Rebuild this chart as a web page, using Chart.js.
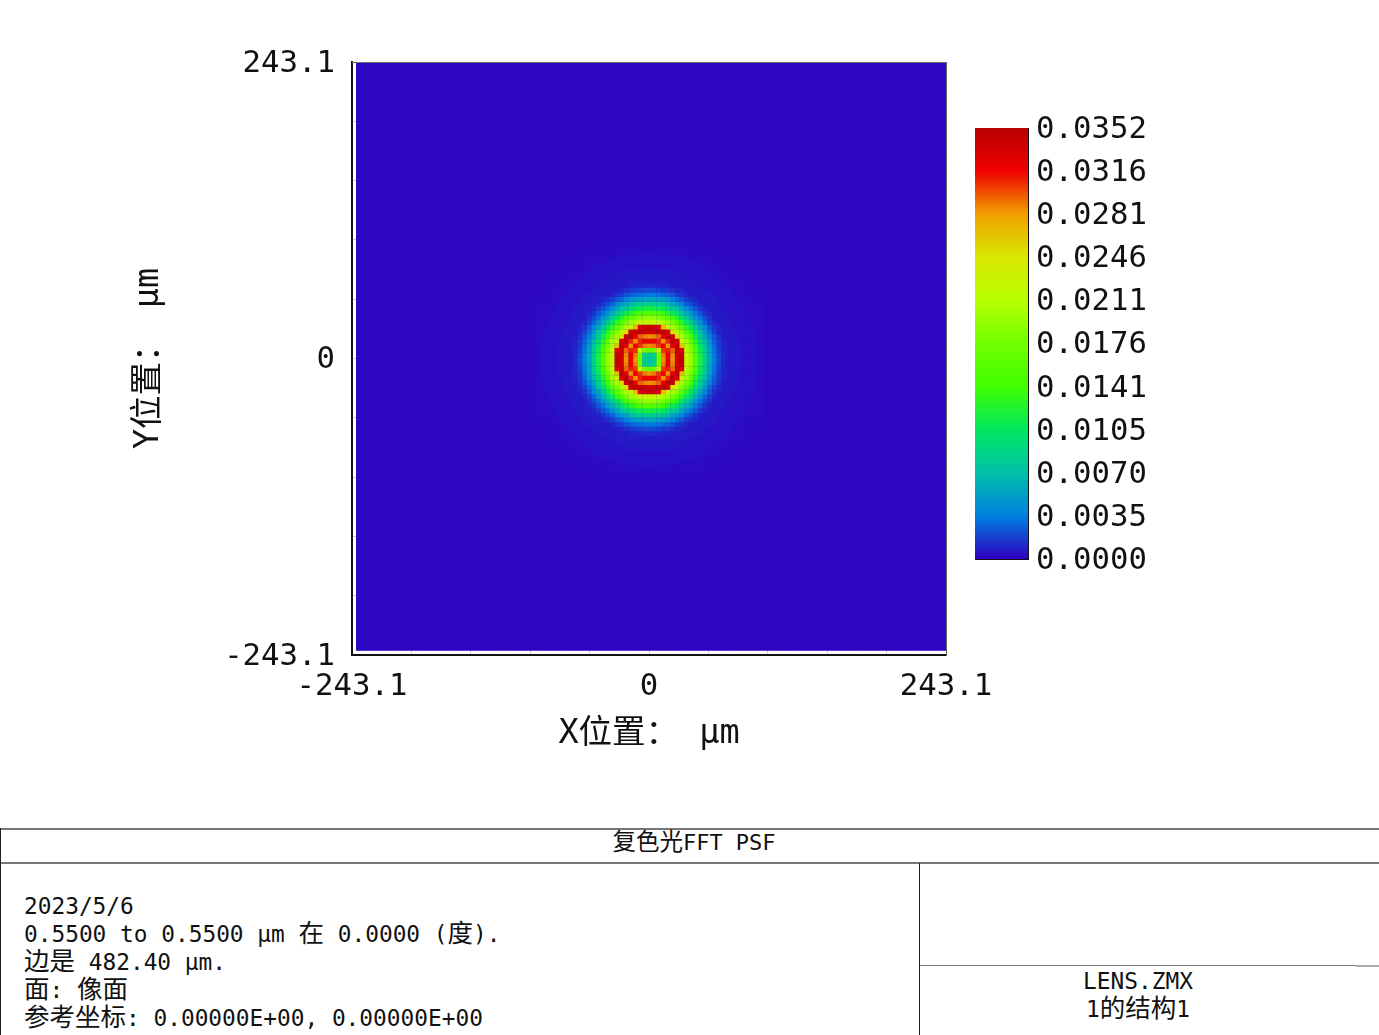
<!DOCTYPE html>
<html>
<head>
<meta charset="utf-8">
<title>复色光FFT PSF</title>
<script src="https://cdn.jsdelivr.net/npm/chart.js@4"></script>
<style>
  html, body { margin: 0; padding: 0; background: #fff; }
  body { width: 1379px; height: 1035px; position: relative; overflow: hidden; }
  canvas { position: absolute; }
  .txt { position: absolute; white-space: pre; color: #111; font: 22.8px/28px "DejaVu Sans Mono", "Noto Sans CJK SC", monospace; }
  .txt span { font-size: 25.5px; line-height: 20px; }
  .line { position: absolute; background: #777; }
</style>
</head>
<body>
<canvas id="psfChart" width="1000" height="800" style="left:0;top:0"></canvas>
<canvas id="barChart" width="220" height="480" style="left:960px;top:100px"></canvas>

<div class="line" style="left:0;top:828px;width:1379px;height:2px"></div>
<div class="line" style="left:0;top:862px;width:1379px;height:2px"></div>
<div class="line" style="left:0;top:828px;width:1px;height:207px;background:#222"></div>
<div class="line" style="left:919px;top:863px;width:1px;height:172px;background:#222"></div>
<div class="line" style="left:920px;top:965px;width:459px;height:1px"></div>
<div class="line" style="left:1356px;top:965px;width:23px;height:2px;background:#aaa"></div>

<div class="txt" style="left:0;top:829px;width:1388px;text-align:center;font-size:22px"><span style="font-size:23.5px">复色光</span>FFT PSF</div>
<div class="txt" style="left:24px;top:892px">2023/5/6
0.5500 to 0.5500 µm <span>在</span> 0.0000 (<span>度</span>).
<span>边是</span> 482.40 µm.
<span>面</span>: <span>像面</span>
<span>参考坐标</span>: 0.00000E+00, 0.00000E+00</div>
<div class="txt" style="left:920px;top:967px;width:436px;text-align:center">LENS.ZMX
1<span>的结构</span>1</div>

<script>
// Sumbu
const axisMax = 243.1;
const axisTicks = [-243.1, -194.48, -145.86, -97.24, -48.62, 0, 48.62, 97.24, 145.86, 194.48, 243.1];
const axisLabels = ['-243.1', '0', '243.1'];

// Colour bar
const barValues = [0, 0.00352, 0.00704, 0.01056, 0.01408, 0.0176, 0.02112, 0.02464, 0.02816, 0.03168, 0.0352];
const barLabels = ['0.0000', '0.0035', '0.0070', '0.0105', '0.0141', '0.0176', '0.0211', '0.0246', '0.0281', '0.0316', '0.0352'];
const barColors = ['#3000c0', '#0080e0', '#00c0a8', '#00e860', '#40ff00', '#70ff00', '#b8ff00', '#d8e800', '#f0a000', '#f00000', '#b80000'];

// PSF, one quarter of the spot, unit 1e-4, row = |y| cells, col = |x| cells
const psfBackground = 2;
const psfStep = 3.798;
const psfCenterX = 0.4;
const psfCenterY = -0.8;
const psfRows = [
  [75,78,165,285,320,285,335,345,225,195,155,118,85,56,34,20,11,7,7,7,5,4,5,4,3],
  [78,85,175,290,320,288,338,340,222,192,153,116,84,55,33,20,11,7,7,7,5,4,5,4,3],
  [165,175,225,305,310,295,345,325,215,186,147,112,81,53,32,18,10,7,7,7,5,4,5,4,3],
  [285,290,305,318,285,322,345,265,205,176,137,104,76,50,29,16,10,7,7,6,5,4,5,4,3],
  [320,320,310,285,310,345,330,222,197,161,126,94,70,45,26,15,9,7,7,6,5,4,5,4,3],
  [285,288,295,322,345,340,250,205,178,143,112,83,56,38,23,13,7,7,7,6,5,4,5,3,3],
  [335,338,345,345,330,250,205,182,155,124,95,72,48,29,17,10,7,7,7,5,4,5,5,3,3],
  [345,340,325,265,222,205,182,159,131,104,81,55,41,24,14,9,7,7,6,5,4,5,4,3,3],
  [225,222,215,205,197,178,155,131,107,84,60,45,27,17,10,7,7,7,5,5,4,5,3,3,3],
  [195,192,186,176,161,143,124,104,84,60,48,31,20,13,7,7,7,6,5,4,5,4,3,3,3],
  [155,153,147,137,126,112,95,81,60,48,32,23,14,10,7,7,7,5,5,4,5,4,3,3,3],
  [118,116,112,104,94,83,72,55,45,31,23,15,10,7,7,7,6,5,4,5,5,3,3,3,3],
  [85,84,81,76,70,56,48,41,27,20,14,10,7,7,7,6,5,5,4,5,4,3,3,3,3],
  [56,55,53,50,45,38,29,24,17,13,10,7,7,7,7,5,5,4,5,4,3,3,3,3,2],
  [34,33,32,29,26,23,17,14,10,7,7,7,7,7,5,5,4,5,5,3,3,3,3,2,2],
  [20,20,18,16,15,13,10,9,7,7,7,7,6,5,5,4,5,5,3,3,3,3,2,2,2],
  [11,11,10,10,9,7,7,7,7,7,7,6,5,5,4,5,5,4,3,3,3,3,2,2,2],
  [7,7,7,7,7,7,7,7,7,6,5,5,5,4,5,5,4,3,3,3,3,2,2,2,2],
  [7,7,7,7,7,7,7,6,5,5,5,4,4,5,5,3,3,3,3,3,2,2,2,2,2],
  [7,7,7,6,6,6,5,5,5,4,4,5,5,4,3,3,3,3,3,2,2,2,2,2,2],
  [5,5,5,5,5,5,4,4,4,5,5,5,4,3,3,3,3,3,2,2,2,2,2,2,2],
  [4,4,4,4,4,4,5,5,5,4,4,3,3,3,3,3,3,2,2,2,2,2,2,2,2],
  [5,5,5,5,5,5,5,4,3,3,3,3,3,3,3,2,2,2,2,2,2,2,2,2,2],
  [4,4,4,4,4,3,3,3,3,3,3,3,3,3,2,2,2,2,2,2,2,2,2,2,2],
  [3,3,3,3,3,3,3,3,3,3,3,3,2,2,2,2,2,2,2,2,2,2,2,2,2]
];

const monoFamily = '"DejaVu Sans Mono", "Noto Sans CJK SC", monospace';
const fontTitle = { family: monoFamily, size: 33.5 };

function hexToRgb(h) {
  return [parseInt(h.slice(1, 3), 16), parseInt(h.slice(3, 5), 16), parseInt(h.slice(5, 7), 16)];
}

function colorFor(v) {
  let i = 0;
  while (i < barValues.length - 2 && v > barValues[i + 1]) i++;
  const t = Math.min(1, (v - barValues[i]) / (barValues[i + 1] - barValues[i]));
  const a = hexToRgb(barColors[i]);
  const b = hexToRgb(barColors[i + 1]);
  return `rgb(${a.map((c, k) => Math.round(c + (b[k] - c) * t)).join(',')})`;
}

// Build cells for the scatter dataset
const cells = [];
const cellColors = [];
for (let j = -64; j <= 64; j++) {
  for (let i = -64; i <= 64; i++) {
    const row = psfRows[Math.abs(j)];
    const raw = row && row[Math.abs(i)] !== undefined ? row[Math.abs(i)] : psfBackground;
    const v = raw * 1e-4;
    cells.push({ x: psfCenterX + i * psfStep, y: psfCenterY + j * psfStep, v: v });
    cellColors.push(colorFor(v));
  }
}

// labels may overhang, the plot area stays where the padding puts it
function noOverhang(s) {
  s.paddingLeft = 0;
  s.paddingRight = 0;
  s.paddingTop = 0;
  s.paddingBottom = 0;
}

function quietAxis(position, axisId) {
  return {
    type: 'linear',
    position: position,
    axis: axisId,
    min: -axisMax,
    max: axisMax,
    ticks: { display: false },
    grid: { drawOnChartArea: false, drawTicks: false },
    border: { color: '#666', width: 1 },
    afterFit: s => { noOverhang(s); if (axisId === 'x') s.height = 0; else s.width = 0; }
  };
}

function mainAxis(titleText, axisId) {
  return {
    type: 'linear',
    min: -axisMax,
    max: axisMax,
    afterBuildTicks: s => { s.ticks = axisTicks.map(v => ({ value: v })); },
    ticks: {
      autoSkip: false,
      maxRotation: 0,
      minRotation: 0,
      color: '#111',
      font: axisId === 'x' ? { family: monoFamily, size: 30.7 } : { family: monoFamily, size: 30.7, lineHeight: '4px' },
      padding: axisId === 'x' ? 14 : 17,
      callback: v => {
        let t = '';
        if (Math.abs(v) < 1e-6) t = axisLabels[1];
        if (v === -axisMax) t = axisLabels[0];
        if (v === axisMax) t = axisLabels[2];
        // two lines push the y label down a little, to sit on its tick
        return axisId === 'y' && t ? ['', t] : t;
      }
    },
    grid: { color: '#cfcfcf', lineWidth: 1, drawTicks: false },
    border: { color: '#111', width: 2 },
    title: { display: true, text: titleText, color: '#111', font: fontTitle, padding: { top: 8, bottom: 0 } },
    afterFit: s => { noOverhang(s); if (axisId === 'x') s.height = 99; else s.width = 352 - 121; }
  };
}

// same colour under the cells so their soft edges leave no seams
const cellBackdrop = {
  id: 'cellBackdrop',
  beforeDatasetsDraw(chart) {
    const a = chart.chartArea;
    chart.ctx.fillStyle = colorFor(psfBackground * 1e-4);
    chart.ctx.fillRect(a.left + 4, a.top + 1, a.right - a.left - 4, a.bottom - a.top - 5.5);
  }
};

new Chart(document.getElementById('psfChart'), {
  type: 'scatter',
  data: {
    datasets: [{
      data: cells,
      pointStyle: 'rect',
      pointRadius: 3.47,
      pointHoverRadius: 3.47,
      pointBorderWidth: 0,
      pointBackgroundColor: cellColors,
      clip: { left: -4, top: -1, right: 0, bottom: -4.5 }
    }]
  },
  options: {
    responsive: false,
    animation: false,
    devicePixelRatio: 1,
    events: [],
    layout: { padding: { left: 121, top: 62, right: 54, bottom: 46 } },
    plugins: { legend: { display: false }, tooltip: { enabled: false } },
    scales: {
      x: mainAxis('X位置： µm', 'x'),
      y: mainAxis('Y位置： µm', 'y'),
      xTop: quietAxis('top', 'x'),
      yRight: quietAxis('right', 'y')
    }
  },
  plugins: [cellBackdrop]
});

// Colour bar as one floating bar filled with the colour scale
new Chart(document.getElementById('barChart'), {
  type: 'bar',
  data: {
    labels: [''],
    datasets: [{
      data: [[barValues[0], barValues[barValues.length - 1]]],
      barPercentage: 1,
      categoryPercentage: 1,
      backgroundColor: c => {
        const area = c.chart.chartArea;
        if (!area) return barColors[0];
        const g = c.chart.ctx.createLinearGradient(0, area.bottom, 0, area.top);
        barColors.forEach((col, i) => g.addColorStop(i / (barColors.length - 1), col));
        return g;
      }
    }]
  },
  options: {
    responsive: false,
    animation: false,
    devicePixelRatio: 1,
    events: [],
    layout: { padding: { left: 15, top: 28, right: 34, bottom: 21 } },
    plugins: { legend: { display: false }, tooltip: { enabled: false } },
    scales: {
      x: {
        ticks: { display: false },
        grid: { display: false },
        border: { color: '#111', width: 1 },
        afterFit: s => { noOverhang(s); s.height = 0; }
      },
      y: {
        position: 'right',
        min: barValues[0],
        max: barValues[barValues.length - 1],
        afterBuildTicks: s => { s.ticks = barValues.map(v => ({ value: v })); },
        afterFit: s => { noOverhang(s); s.width = 118; },
        ticks: {
          autoSkip: false,
          color: '#111',
          font: { family: monoFamily, size: 30.7, lineHeight: '4px' },
          padding: 8,
          callback: (v, i) => ['', barLabels[i]]
        },
        grid: { display: false, drawTicks: false },
        border: { color: '#111', width: 1 }
      }
    }
  }
});
</script>
</body>
</html>
